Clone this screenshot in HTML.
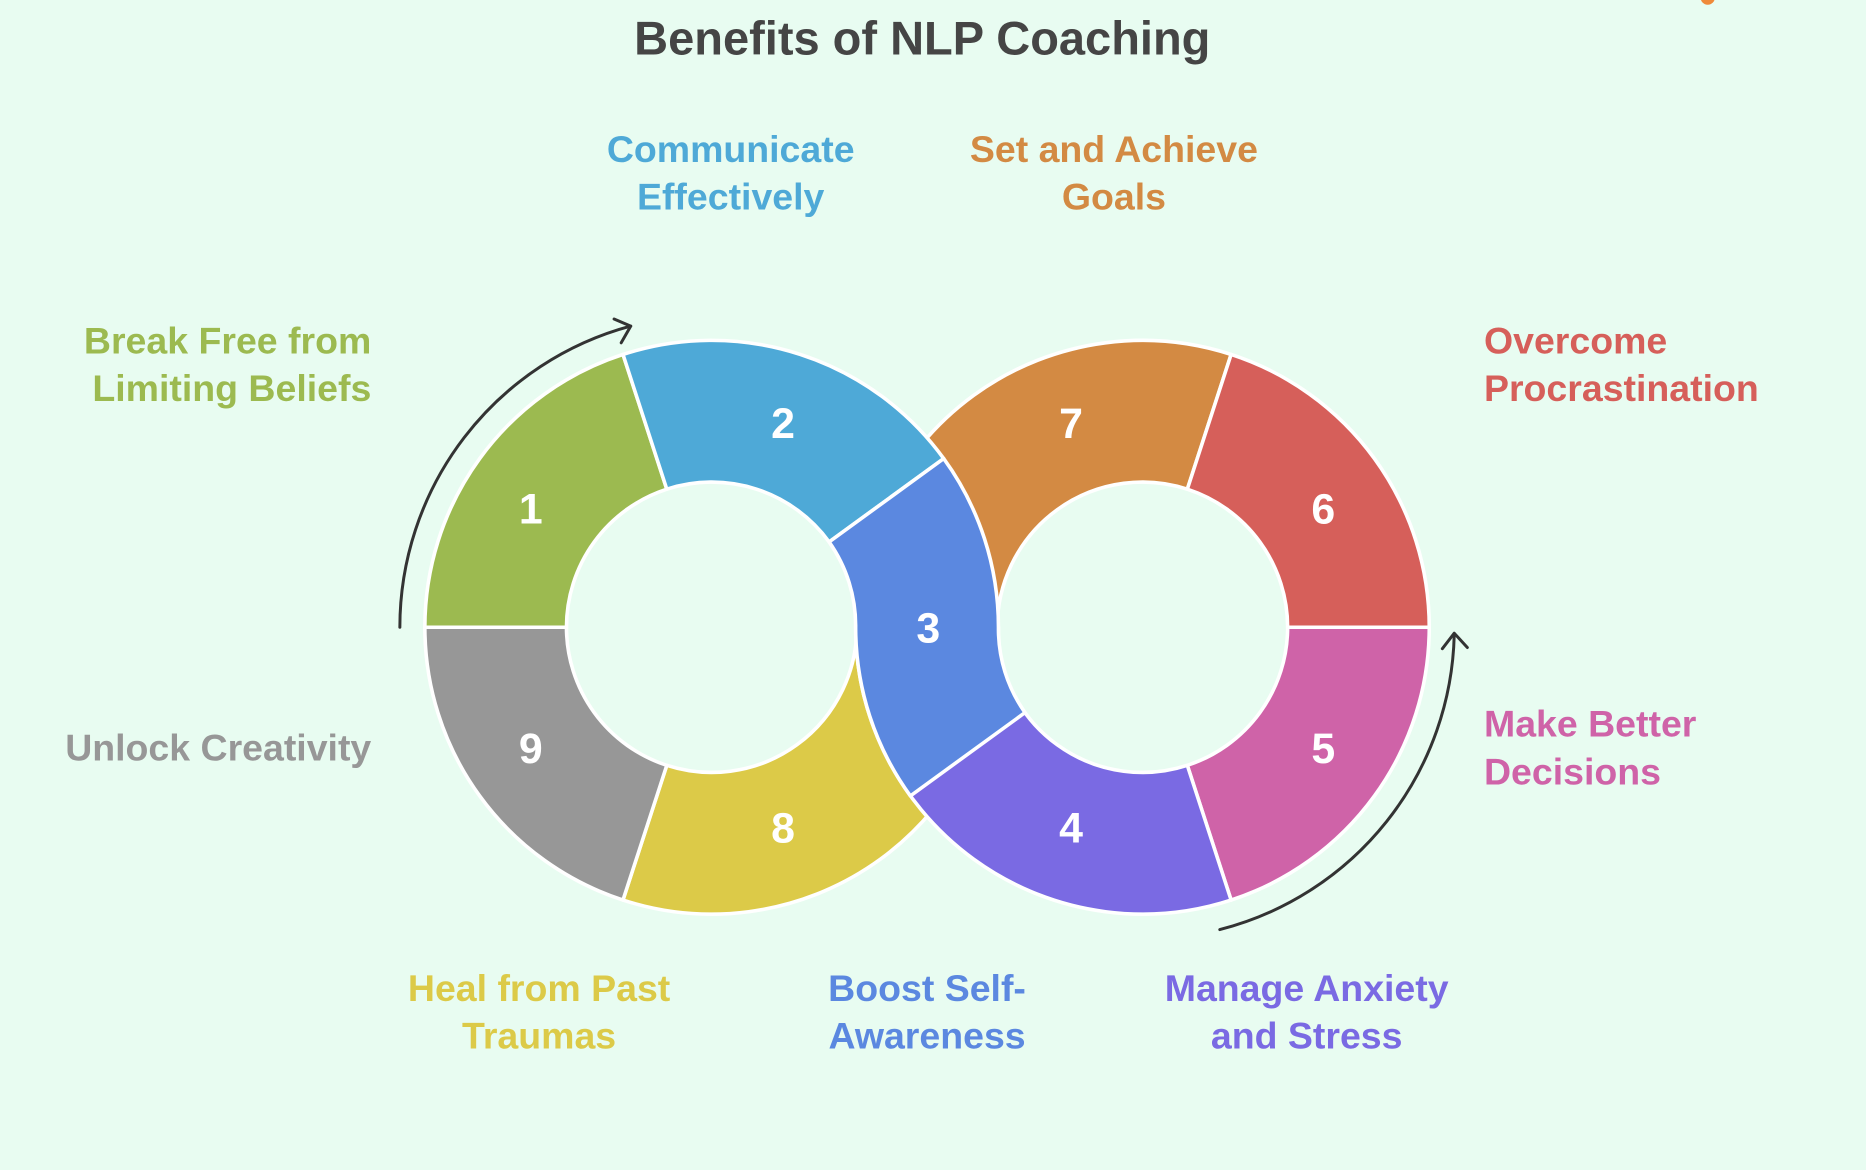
<!DOCTYPE html>
<html><head><meta charset="utf-8"><style>
html,body{margin:0;padding:0;background:#e8fcf1;}
svg{display:block}
text{font-family:"Liberation Sans",sans-serif;font-weight:bold}
</style></head><body>
<svg width="1866" height="1170" viewBox="0 0 1568 983" preserveAspectRatio="none" xmlns="http://www.w3.org/2000/svg">
<rect width="1568" height="983" fill="#e8fcf1"/>
<text x="775" y="46" font-size="39.5" fill="#454545" text-anchor="middle">Benefits of NLP Coaching</text>
<g stroke="#ffffff" stroke-width="3" stroke-linejoin="round">
<path d="M523.5 756.2 A241 241 0 0 0 839 527 L720 527 A122 122 0 0 1 560.3 643 Z" fill="#dcca48"/>
<path d="M1034.5 297.8 A241 241 0 0 0 719 527 L838 527 A122 122 0 0 1 997.7 411 Z" fill="#d38a43"/>
<path d="M523.5 297.8 A241 241 0 0 0 357 527 L476 527 A122 122 0 0 1 560.3 411 Z" fill="#9cba50"/>
<path d="M793 385.3 A241 241 0 0 0 523.5 297.8 L560.3 411 A122 122 0 0 1 696.7 455.3 Z" fill="#4ea9d7"/>
<path d="M357 527 A241 241 0 0 0 523.5 756.2 L560.3 643 A122 122 0 0 1 476 527 Z" fill="#979797"/>
<path d="M1201 527 A241 241 0 0 0 1034.5 297.8 L997.7 411 A122 122 0 0 1 1082 527 Z" fill="#d65f5a"/>
<path d="M1034.5 756.2 A241 241 0 0 0 1201 527 L1082 527 A122 122 0 0 1 997.7 643 Z" fill="#cf63a8"/>
<path d="M719 527 A241 241 0 0 0 1034.5 756.2 L997.7 643 A122 122 0 0 1 838 527 Z" fill="#7a6ae3"/>
<path d="M793 385.3 A241 241 0 0 1 839 527 A122 122 0 0 0 861.3 598.7 L765 668.7 A241 241 0 0 1 719 527 A122 122 0 0 0 696.7 455.3 Z" fill="#5b88e0"/>
</g>
<g font-size="36" fill="#ffffff" text-anchor="middle">
<text x="446" y="440">1</text><text x="658" y="368">2</text><text x="780" y="540">3</text>
<text x="900" y="708">4</text><text x="1112" y="641">5</text><text x="1112" y="440">6</text>
<text x="900" y="368">7</text><text x="658" y="708">8</text><text x="446" y="641">9</text>
</g>
<g fill="none" stroke="#333" stroke-width="2.5" stroke-linecap="round" stroke-linejoin="round">
<path d="M336 527 A262 262 0 0 1 530 274"/>
<path d="M516 268 L530 274 L522 288"/>
<path d="M1025 781 A262 262 0 0 0 1222 533"/>
<path d="M1212 545 L1222 532 L1233 544"/>
</g>
<g font-size="31.5">
<text x="614" y="136" fill="#4ea9d7" text-anchor="middle">Communicate</text>
<text x="614" y="176" fill="#4ea9d7" text-anchor="middle">Effectively</text>
<text x="936" y="136" fill="#d38a43" text-anchor="middle">Set and Achieve</text>
<text x="936" y="176" fill="#d38a43" text-anchor="middle">Goals</text>
<text x="312" y="297" fill="#9cba50" text-anchor="end">Break Free from</text>
<text x="312" y="337" fill="#9cba50" text-anchor="end">Limiting Beliefs</text>
<text x="1247" y="297" fill="#d65f5a">Overcome</text>
<text x="1247" y="337" fill="#d65f5a">Procrastination</text>
<text x="1247" y="619" fill="#cf63a8">Make Better</text>
<text x="1247" y="659" fill="#cf63a8">Decisions</text>
<text x="312" y="639" fill="#979797" text-anchor="end">Unlock Creativity</text>
<text x="453" y="841" fill="#dcca48" text-anchor="middle">Heal from Past</text>
<text x="453" y="881" fill="#dcca48" text-anchor="middle">Traumas</text>
<text x="779" y="841" fill="#5b88e0" text-anchor="middle">Boost Self-</text>
<text x="779" y="881" fill="#5b88e0" text-anchor="middle">Awareness</text>
<text x="1098" y="841" fill="#7a6ae3" text-anchor="middle">Manage Anxiety</text>
<text x="1098" y="881" fill="#7a6ae3" text-anchor="middle">and Stress</text>
</g>
<circle cx="1435" cy="-2" r="6" fill="#ef8a3a"/>
</svg>
</body></html>
